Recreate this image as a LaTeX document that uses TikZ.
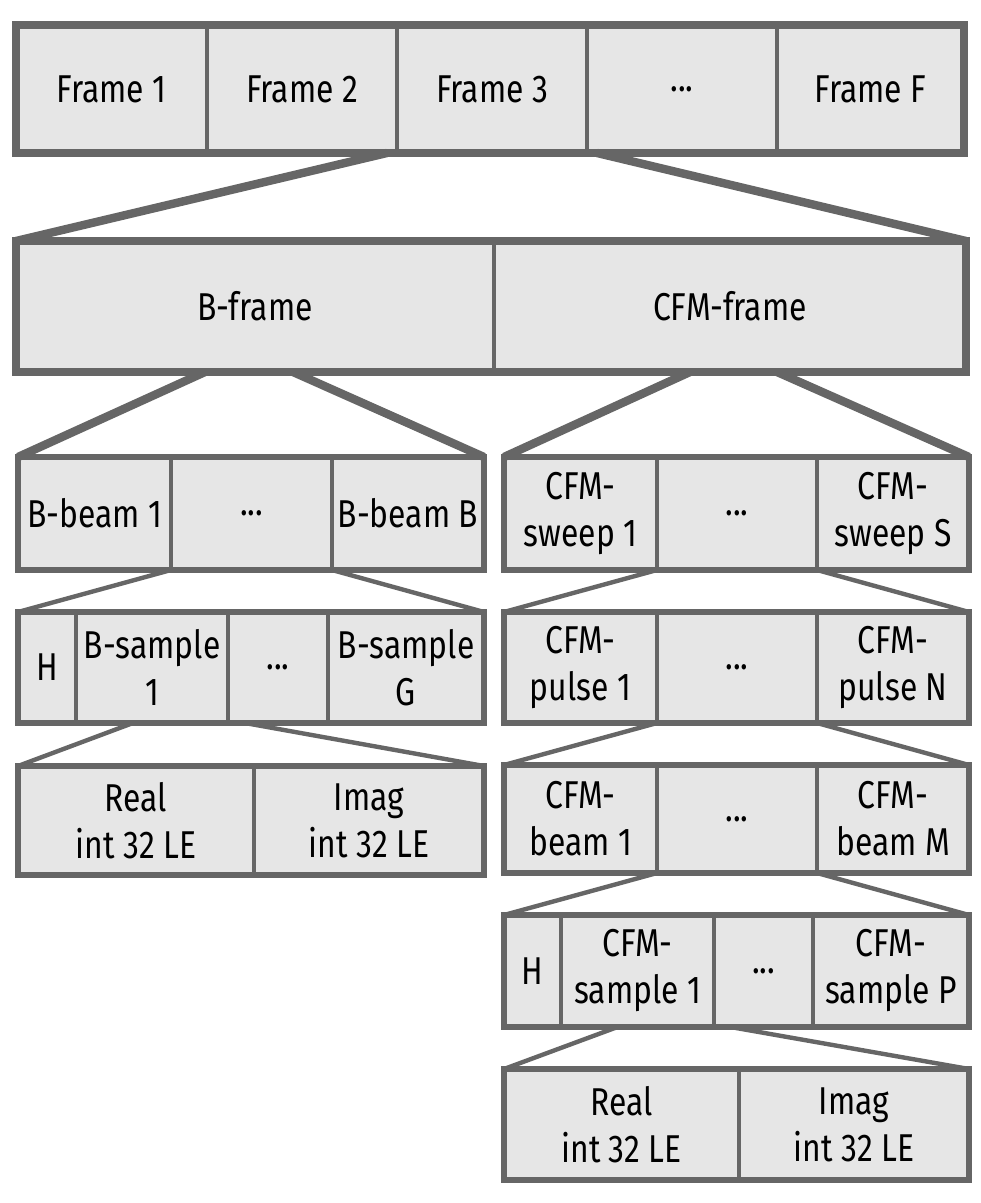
\documentclass[tikz,border=0pt]{standalone}
\usepackage{fontspec}
\setmainfont[FakeStretch=0.82]{Fira Sans}
\newcommand\pxu{0.5pt}
\definecolor{edgegray}{HTML}{666666}
\definecolor{cellgray}{HTML}{E6E6E6}

\begin{document}
\begin{tikzpicture}[x=0.5pt,y=-0.5pt,
		cell/.style={draw=edgegray, fill=cellgray, line width=2pt, inner sep=0pt, outer sep=0pt,
			anchor=north west, align=center, font=\fontsize{19.4pt}{23.5pt}\selectfont},
		cellw/.style={minimum width=#1*\pxu},
		cellh/.style={minimum height=#1*\pxu},
		thickrow/.style={draw=edgegray, line width=4.2pt},
		thinrow/.style={draw=edgegray, line width=2.6pt},
		fan/.style={draw=edgegray, line width=4.2pt},
		fanthin/.style={draw=edgegray, line width=2.2pt}]
		\useasboundingbox (0,0) rectangle (980,1203);
		
		% frames
		\node[cell, cellw=191, cellh=128] (f1) at (16,25) {Frame 1};
		\node[cell, cellw=190, cellh=128] (f2) at (f1.north east) {Frame 2};
		\node[cell, cellw=190, cellh=128] (f3) at (f2.north east) {Frame 3};
		\node[cell, cellw=190, cellh=128] (fd) at (f3.north east) {...};
		\node[cell, cellw=187, cellh=128] (ff) at (fd.north east) {Frame F};
		\draw[thickrow] (f1.north west) rectangle (ff.south east);
		
		\node[cell, cellw=478, cellh=131] (bfr) at (16,241) {B-frame};
		\node[cell, cellw=472, cellh=131] (cfr) at (bfr.north east) {CFM-frame};
		\draw[thickrow] (bfr.north west) rectangle (cfr.south east);
		\draw[fan] ([xshift=-5pt]f3.south west) -- (bfr.north west);
		\draw[fan] ([xshift=5pt]f3.south east) -- (cfr.north east);
		
		% B side
		\node[cell, cellw=153, cellh=113] (bb1) at (18,457) {B-beam 1};
		\node[cell, cellw=161, cellh=113] (bbd) at (bb1.north east) {...};
		\node[cell, cellw=152, cellh=113] (bbB) at (bbd.north east) {B-beam B};
		\draw[thinrow] (bb1.north west) rectangle (bbB.south east);
		\draw[fan] ([xshift=-25pt]bfr.south) -- (bb1.north west);
		\draw[fan] ([xshift=19pt]bfr.south) -- (bbB.north east);
		
		\node[cell, cellw=58, cellh=111] (bh) at (18,612) {H};
		\node[cell, cellw=152, cellh=111] (bs1) at (bh.north east) {B-sample\\1};
		\node[cell, cellw=100, cellh=111] (bsd) at (bs1.north east) {...};
		\node[cell, cellw=156, cellh=111] (bsG) at (bsd.north east) {B-sample\\G};
		\draw[thinrow] (bh.north west) rectangle (bsG.south east);
		\draw[fanthin] (bb1.south east) -- (bh.north west);
		\draw[fanthin] (bbB.south west) -- (bsG.north east);
		
		\node[cell, cellw=236, cellh=109] (bre) at (18,766) {Real\\int 32 LE};
		\node[cell, cellw=230, cellh=109] (bim) at (bre.north east) {Imag\\int 32 LE};
		\draw[thinrow] (bre.north west) rectangle (bim.south east);
		\draw[fanthin] ([xshift=-9.5pt]bs1.south) -- (bre.north west);
		\draw[fanthin] ([xshift=46.5pt]bs1.south) -- (bim.north east);
		
		% CFM side
		\node[cell, cellw=153, cellh=113] (cs1) at (504,457) {CFM-\\sweep 1};
		\node[cell, cellw=160, cellh=113] (csd) at (cs1.north east) {...};
		\node[cell, cellw=152, cellh=113] (csS) at (csd.north east) {CFM-\\sweep S};
		\draw[thinrow] (cs1.north west) rectangle (csS.south east);
		\draw[fan] ([xshift=-20pt]cfr.south) -- (cs1.north west);
		\draw[fan] ([xshift=23.5pt]cfr.south) -- (csS.north east);
		
		\node[cell, cellw=153, cellh=111] (cp1) at (504,612) {CFM-\\pulse 1};
		\node[cell, cellw=160, cellh=111] (cpd) at (cp1.north east) {...};
		\node[cell, cellw=152, cellh=111] (cpN) at (cpd.north east) {CFM-\\pulse N};
		\draw[thinrow] (cp1.north west) rectangle (cpN.south east);
		\draw[fanthin] (cs1.south east) -- (cp1.north west);
		\draw[fanthin] (csS.south west) -- (cpN.north east);
		
		\node[cell, cellw=153, cellh=108] (cb1) at (504,765) {CFM-\\beam 1};
		\node[cell, cellw=160, cellh=108] (cbd) at (cb1.north east) {...};
		\node[cell, cellw=152, cellh=108] (cbM) at (cbd.north east) {CFM-\\beam M};
		\draw[thinrow] (cb1.north west) rectangle (cbM.south east);
		\draw[fanthin] (cp1.south east) -- (cb1.north west);
		\draw[fanthin] (cpN.south west) -- (cbM.north east);
		
		\node[cell, cellw=57, cellh=112] (ch) at (504,915) {H};
		\node[cell, cellw=153, cellh=112] (cm1) at (ch.north east) {CFM-\\sample 1};
		\node[cell, cellw=99, cellh=112] (cmd) at (cm1.north east) {...};
		\node[cell, cellw=156, cellh=112] (cmP) at (cmd.north east) {CFM-\\sample P};
		\draw[thinrow] (ch.north west) rectangle (cmP.south east);
		\draw[fanthin] (cb1.south east) -- (ch.north west);
		\draw[fanthin] (cbM.south west) -- (cmP.north east);
		
		\node[cell, cellw=235, cellh=111] (cre) at (504,1069) {Real\\int 32 LE};
		\node[cell, cellw=230, cellh=111] (cim) at (cre.north east) {Imag\\int 32 LE};
		\draw[thinrow] (cre.north west) rectangle (cim.south east);
		\draw[fanthin] ([xshift=-10pt]cm1.south) -- (cre.north west);
		\draw[fanthin] ([xshift=46.5pt]cm1.south) -- (cim.north east);
\end{tikzpicture}
\end{document}
